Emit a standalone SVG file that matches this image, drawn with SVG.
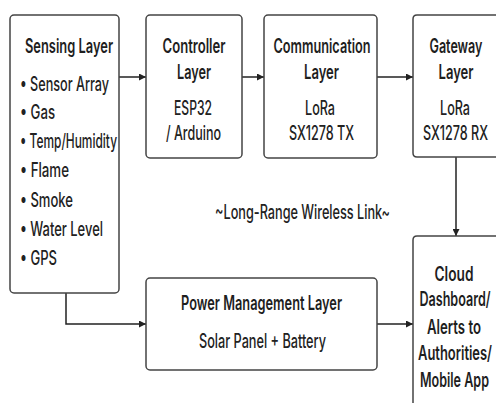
<svg xmlns="http://www.w3.org/2000/svg" width="496" height="403" viewBox="0 0 496 403">
<defs>
<marker id="ah" viewBox="0 0 10 10" refX="10" refY="5" markerWidth="7" markerHeight="7" markerUnits="userSpaceOnUse" orient="auto">
<path d="M0,0 L10,5 L0,10 z" fill="#222"/>
</marker>
<style>
.box{fill:#fff;stroke:#444;stroke-width:1.5}
.t{font-family:Inter,"Noto Sans",sans-serif;font-size:19.5px;fill:#1e1e1e;font-weight:600}
.b{font-family:Inter,"Noto Sans",sans-serif;font-size:19.5px;fill:#222;font-weight:500}
.c{fill:none;stroke:#222;stroke-width:1.5;marker-end:url(#ah)}
</style>
</defs>
<rect width="496" height="403" fill="#fff"/>
<g id="connectors">
<line class="c" x1="119" y1="77" x2="146" y2="77"/>
<line class="c" x1="242" y1="77" x2="264" y2="77"/>
<line class="c" x1="377" y1="77" x2="413" y2="77"/>
<line class="c" x1="456" y1="157" x2="456" y2="236"/>
<polyline class="c" points="66,293 66,324 146,324"/>
<line class="c" x1="377" y1="324" x2="413" y2="324"/>
</g>
<g id="sensing">
<rect class="box" x="10" y="15" width="109" height="278" rx="4"/>
<text class="t" x="69" y="53" text-anchor="middle" textLength="88" lengthAdjust="spacingAndGlyphs">Sensing Layer</text>
<text class="b" x="20" y="91" textLength="89" lengthAdjust="spacingAndGlyphs">• Sensor Array</text>
<text class="b" x="20" y="119" textLength="35" lengthAdjust="spacingAndGlyphs">• Gas</text>
<text class="b" x="20" y="148" textLength="97" lengthAdjust="spacingAndGlyphs">• Temp/Humidity</text>
<text class="b" x="20" y="177" textLength="49" lengthAdjust="spacingAndGlyphs">• Flame</text>
<text class="b" x="20" y="207" textLength="53" lengthAdjust="spacingAndGlyphs">• Smoke</text>
<text class="b" x="20" y="236" textLength="83" lengthAdjust="spacingAndGlyphs">• Water Level</text>
<text class="b" x="20" y="265" textLength="37" lengthAdjust="spacingAndGlyphs">• GPS</text>
</g>
<g id="controller">
<rect class="box" x="146" y="15" width="96" height="143" rx="4"/>
<text class="t" x="194" y="53" text-anchor="middle" textLength="63" lengthAdjust="spacingAndGlyphs">Controller</text>
<text class="t" x="194" y="79" text-anchor="middle" textLength="34" lengthAdjust="spacingAndGlyphs">Layer</text>
<text class="b" x="193" y="115" text-anchor="middle" textLength="38" lengthAdjust="spacingAndGlyphs">ESP32</text>
<text class="b" x="193.5" y="140" text-anchor="middle" textLength="55" lengthAdjust="spacingAndGlyphs">/ Arduino</text>
</g>
<g id="communication">
<rect class="box" x="264" y="15" width="113" height="143" rx="4"/>
<text class="t" x="322" y="53" text-anchor="middle" textLength="97" lengthAdjust="spacingAndGlyphs">Communication</text>
<text class="t" x="321.5" y="79" text-anchor="middle" textLength="35" lengthAdjust="spacingAndGlyphs">Layer</text>
<text class="b" x="320" y="115" text-anchor="middle" textLength="30" lengthAdjust="spacingAndGlyphs">LoRa</text>
<text class="b" x="321.5" y="140" text-anchor="middle" textLength="65" lengthAdjust="spacingAndGlyphs">SX1278 TX</text>
</g>
<g id="gateway">
<path class="box" d="M496,15 H417 Q413,15 413,19 V153 Q413,157 417,157 H496"/>
<text class="t" x="456" y="53" text-anchor="middle" textLength="53" lengthAdjust="spacingAndGlyphs">Gateway</text>
<text class="t" x="456" y="79" text-anchor="middle" textLength="35" lengthAdjust="spacingAndGlyphs">Layer</text>
<text class="b" x="455" y="115" text-anchor="middle" textLength="30" lengthAdjust="spacingAndGlyphs">LoRa</text>
<text class="b" x="455.5" y="140" text-anchor="middle" textLength="65" lengthAdjust="spacingAndGlyphs">SX1278 RX</text>
</g>
<g id="cloud">
<path class="box" d="M496,236 H417 Q413,236 413,240 V403"/>
<text class="t" x="454" y="281" text-anchor="middle" textLength="39" lengthAdjust="spacingAndGlyphs">Cloud</text>
<text class="t" x="455" y="306" text-anchor="middle" textLength="71" lengthAdjust="spacingAndGlyphs">Dashboard/</text>
<text class="t" x="454" y="334" text-anchor="middle" textLength="54" lengthAdjust="spacingAndGlyphs">Alerts to</text>
<text class="t" x="455" y="360" text-anchor="middle" textLength="74" lengthAdjust="spacingAndGlyphs">Authorities/</text>
<text class="t" x="454.5" y="387" text-anchor="middle" textLength="69" lengthAdjust="spacingAndGlyphs">Mobile App</text>
</g>
<g id="power">
<rect class="box" x="146" y="278" width="231" height="92" rx="4"/>
<text class="t" x="261.5" y="310" text-anchor="middle" textLength="161" lengthAdjust="spacingAndGlyphs">Power Management Layer</text>
<text class="b" x="262.5" y="348" text-anchor="middle" textLength="127" lengthAdjust="spacingAndGlyphs">Solar Panel + Battery</text>
</g>
<g id="link-label">
<text class="b" x="302.5" y="219" text-anchor="middle" textLength="175" lengthAdjust="spacingAndGlyphs" fill="#333" font-weight="400">~Long-Range Wireless Link~</text>
</g>
</svg>
